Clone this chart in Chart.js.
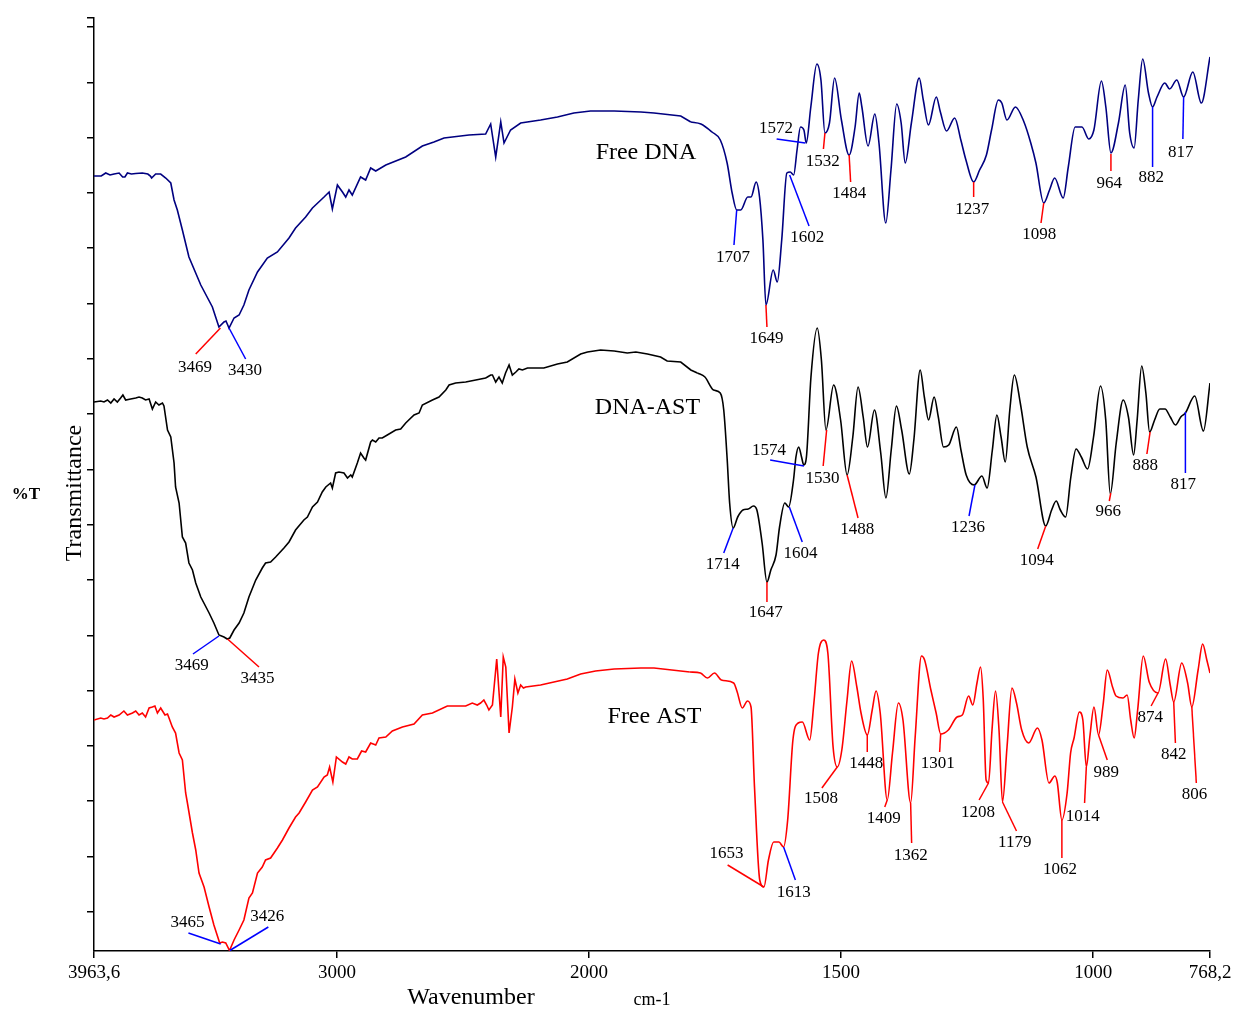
<!DOCTYPE html>
<html lang="en">
<head>
<meta charset="utf-8">
<title>FTIR spectra - Free DNA, DNA-AST, Free AST</title>
<script src="https://cdn.jsdelivr.net/npm/chart.js"></script>
<style>
  html, body { margin: 0; padding: 0; background: #fff; }
  #wrap { width: 1237px; height: 1010px; }
</style>
</head>
<body>
<div id="wrap"><canvas id="c"></canvas></div>

<script>
  // Free DNA spectrum (wavenumber cm-1, transmittance, offset)
  const dnaWn = [3963.6,3935,3917,3900,3884,3864,3850,3841,3831,3815,3798,3772,3750,3740,3735,3719,3699,3679,3659,3646,3633,3613,3587,3540,3494,3468,3448,3440,3428,3408,3388,3369,3349,3315,3276,3236,3190,3164,3124,3097,3051,3031,3018,2998,2978,2965,2952,2939,2906,2886,2866,2846,2806,2727,2661,2615,2575,2476,2410,2390,2370,2350,2337,2311,2271,2192,2125,2060,1997,1950,1897,1871,1818,1798,1778,1756,1739.5,1726,1716,1707,1699,1685,1678.6,1668.4,1661.7,1655,1649,1634.6,1626.5,1617.7,1607.5,1600.8,1594,1587.3,1580.5,1573.7,1569,1560,1548,1539.9,1532,1523,1512.8,1499.3,1484,1472.2,1464,1458.7,1446.5,1433,1424.8,1411.3,1401,1389.6,1380.8,1372.7,1360.5,1345,1336.9,1326.7,1311.1,1303,1290.8,1274.6,1262.4,1252.3,1237,1225.2,1211.7,1201.5,1188,1181.2,1171,1154.2,1137.2,1123.7,1113.5,1098,1086.5,1076.3,1059.4,1049.3,1035.7,1022.2,1008.7,998.5,983.6,974.8,964.7,949.8,936.3,927.5,918.7,910.5,901.7,890.2,882.1,873.3,857.8,848.3,834.1,820.5,802.3,785.4,768.2];
  const dnaT = [77.5,77.5,77.8,77.6,77.7,77.8,77.4,77.4,77.8,77.7,77.75,77.8,77.7,77.5,77.3,77.7,77.7,77.3,76.8,75.1,74.1,72.1,69.4,66.6,64.4,62.4,62.9,63.0,62.3,63.3,63.6,64.6,66.1,67.9,69.3,69.9,71.3,72.3,73.4,74.3,75.4,75.9,74.2,76.6,75.9,75.4,76.1,75.6,77.4,77.1,78.3,78.0,78.6,79.4,80.5,80.9,81.3,81.6,81.7,82.7,79.4,82.9,80.8,82.1,82.8,83.1,83.4,83.8,84.0,84.0,83.9,83.8,83.5,82.9,82.7,81.9,81.1,78.8,75.8,74.1,74.1,75.4,75.4,76.9,75.4,71.1,64.6,68.1,66.9,71.1,77.8,77.9,77.6,80.1,82.4,82.1,80.8,84.4,88.7,87.1,81.8,82.8,87.3,83.1,79.6,82.4,85.8,84.4,80.5,83.7,80.8,72.8,78.1,84.7,82.8,78.8,82.8,87.3,85.1,82.6,85.4,83.9,82.0,83.3,81.1,79.1,76.9,78.1,79.6,82.1,85.1,84.8,83.1,84.4,82.9,80.8,78.8,74.8,76.1,77.3,75.3,78.4,82.4,82.4,81.2,82.1,87.0,84.4,79.8,82.8,86.6,81.8,80.3,85.1,89.2,85.8,84.4,85.4,86.8,86.2,87.1,85.4,87.9,84.8,89.4];

  // DNA-AST complex spectrum
  const complexWn = [3963.6,3937,3924,3910,3897,3884,3871,3858,3849,3838,3818,3798,3785,3772,3759,3745,3732,3719,3706,3692,3686,3672,3659,3646,3640,3626,3613,3600,3587,3573,3560,3540,3507,3488,3468,3448,3435,3425,3408,3388,3369,3349,3322,3296,3283,3263,3243,3210,3190,3164,3131,3117,3097,3077,3058,3044,3025,3018,3005,2992,2972,2958,2945,2939,2919,2906,2893,2886,2866,2859,2846,2833,2820,2800,2767,2747,2727,2694,2674,2661,2621,2595,2568,2555,2529,2489,2449,2410,2403,2390,2383,2370,2357,2344,2331,2317,2304,2290,2278,2264,2244,2179,2125,2086,2033,2006,1977,1950,1924,1907,1884,1858,1845,1818,1798,1785,1770,1753,1739.6,1732.7,1725.8,1721,1714,1705,1694.6,1684.2,1673.9,1667,1656.6,1647,1639.3,1629,1622,1611.6,1604,1594.3,1589.5,1584,1578.4,1574,1568.7,1559.7,1547.2,1539,1530,1514.7,1500.9,1488,1476.7,1466.3,1456.1,1447.6,1433.8,1421.3,1411,1400.5,1390.2,1379.8,1364.6,1355.6,1343.1,1334.8,1326.5,1315.4,1307.1,1296.8,1286.4,1271.2,1262.2,1251.8,1236,1220.6,1210.3,1199.9,1190.9,1182.6,1174.3,1165.3,1156.3,1144.5,1130.7,1113.4,1094,1082.3,1073.3,1065,1054.6,1044.2,1033.8,1023.4,1011,999.2,985.4,975,966,954.2,940.4,930,919.7,912.7,903.7,895.4,888,878.1,867.8,857.4,847,836.6,826.2,817,798.5,781.3,768.2];
  const complexT = [54.9,55.0,54.9,55.1,54.8,55.2,54.9,55.3,55.6,55.1,55.2,55.3,55.4,55.3,55.1,55.2,54.2,54.9,54.6,54.8,54.5,52.1,51.4,48.8,46.4,44.8,41.4,40.8,38.8,38.1,36.8,35.4,33.8,32.8,31.6,31.4,31.2,31.3,32.1,32.8,33.8,35.4,37.1,38.3,38.8,38.9,39.4,40.3,40.9,42.1,43.1,43.4,44.4,44.9,45.9,46.4,46.8,46.3,47.8,47.9,47.8,47.3,47.6,47.4,48.8,49.8,49.3,49.1,50.9,51.1,50.9,51.3,51.3,51.6,52.1,52.2,52.8,53.6,53.8,54.6,55.1,55.4,56.1,56.6,56.8,56.9,57.1,57.3,57.4,57.6,57.6,56.9,57.4,56.8,57.8,58.6,57.6,57.9,58.2,58.1,58.3,58.3,58.7,58.9,59.7,59.9,60.1,60.0,59.8,59.9,59.7,59.4,59.0,58.9,58.1,57.8,57.4,56.1,55.8,54.1,49.1,44.8,42.3,43.4,44.1,44.2,44.5,44.1,40.8,36.9,38.1,39.6,42.4,44.8,44.4,47.1,49.4,50.4,49.4,48.6,49.4,57.4,62.3,59.1,52.1,56.6,53.1,47.6,51.4,56.4,53.4,50.4,54.1,49.8,45.3,50.1,54.5,52.1,47.7,51.1,58.1,55.4,53.1,55.4,53.4,50.4,50.6,52.4,50.1,47.6,46.6,47.5,46.3,50.1,53.6,51.4,48.9,54.1,57.6,54.8,50.4,47.4,42.5,44.1,45.0,44.1,43.4,47.4,50.2,49.4,48.2,51.4,56.5,53.1,45.7,50.8,55.1,53.4,49.6,53.1,58.5,55.8,51.9,53.1,54.2,54.2,53.4,52.6,53.4,53.8,55.5,52.0,56.8];

  // Free AST spectrum
  const astWn = [3963.6,3937,3924,3910,3897,3884,3864,3845,3831,3811,3798,3785,3772,3759,3745,3732,3722,3712,3699,3682,3672,3666,3653,3640,3626,3613,3600,3593,3573,3560,3547,3527,3507,3488,3465,3454,3441,3426,3408,3388,3369,3349,3335,3315,3296,3283,3263,3236,3216,3190,3164,3150,3124,3097,3077,3051,3038,3029,3016,3002,2978,2965,2952,2939,2919,2902,2886,2866,2846,2833,2806,2780,2740,2694,2661,2621,2562,2489,2463,2443,2430,2417,2406,2397,2383,2366,2350,2340,2330,2317,2304,2294,2282,2271,2260,2251,2192,2139,2086,2033,1987,1950,1897,1871,1818,1800,1779,1765,1751,1737.5,1713,1706,1696,1685.6,1678.6,1671.7,1661.3,1653,1644,1633.6,1623.2,1614.2,1605.9,1595.5,1585.1,1576.8,1562.2,1553.9,1544.9,1534.5,1526.2,1515.8,1507.5,1498.5,1488.1,1479.1,1468.7,1460.4,1447.9,1438.2,1430.6,1422.3,1408.4,1398,1386.3,1377.2,1362,1353,1340.5,1334.3,1321.8,1311.4,1302.4,1287.2,1269.9,1259.5,1247,1238.7,1230.4,1223.4,1217.9,1212.3,1207.5,1200.6,1193.6,1186.7,1179.8,1170.8,1161,1152,1141.7,1127.8,1110.5,1101.5,1087.6,1075.9,1071,1062,1051.6,1044.7,1037.8,1027.4,1020.4,1013.5,1006.6,998.3,989.3,980.3,972,961.5,954.6,940.8,932.5,925.5,918.6,911.7,900.6,888.8,871.3,856.2,847.1,840.2,824.3,812.6,804.3,791.8,782.8,774.5,768.2];
  const astT = [23.1,23.3,23.2,23.3,23.6,23.4,23.6,24.0,23.6,23.8,24.0,23.6,23.8,23.4,24.3,24.4,24.5,23.8,24.3,23.6,23.7,23.3,22.4,21.8,19.8,19.1,15.8,14.8,11.8,10.1,7.8,6.4,4.4,2.6,0.8,0.9,0.8,0.05,1.1,2.1,3.1,5.3,5.8,7.8,8.4,9.1,9.3,10.3,11.1,12.3,13.4,13.8,14.9,16.1,16.4,17.4,17.6,18.4,16.9,19.4,18.9,18.7,19.4,19.2,19.2,20.0,19.9,20.8,20.6,21.3,21.4,22.0,22.4,22.7,23.6,23.8,24.5,24.5,24.8,24.6,24.8,25.1,24.6,24.1,24.6,29.2,23.4,29.4,28.4,21.8,24.4,27.2,25.8,26.6,26.3,26.4,26.6,26.9,27.2,27.7,28.0,28.2,28.3,28.3,28.0,27.9,27.8,27.3,27.8,27.1,26.8,25.9,24.3,25.0,24.4,16.4,7.1,6.4,9.1,10.9,10.9,10.4,13.1,21.1,22.8,22.9,21.1,24.8,29.8,31.1,29.8,20.4,18.4,20.1,25.1,29.0,26.4,23.8,21.6,24.1,26.0,23.8,15.1,19.8,24.8,23.1,14.8,21.4,29.5,29.1,26.1,23.8,21.7,22.1,23.4,23.6,25.5,24.6,26.8,28.4,25.1,17.1,16.8,22.1,26.0,22.1,14.9,20.4,26.3,24.8,22.1,20.8,22.3,21.1,16.8,17.5,16.8,13.1,15.8,19.8,21.3,23.9,23.1,18.4,21.4,24.4,21.6,24.6,28.1,26.4,25.5,25.3,25.6,23.1,21.3,24.1,29.5,26.9,25.8,29.2,26.6,24.9,28.8,26.8,24.4,28.1,30.7,29.1,27.8];

  // peak labels: [text, leader colour, wn at curve, T at curve, wn at end, T at end, text wn, text T]
  const dnaPeaks = [
    ['3469', 'red', 3462, 62.3, 3560, 59.7, 3563, 58.3],
    ['3430', 'blue', 3428, 62.3, 3362, 59.2, 3365, 58.0],
    ['1707', 'blue', 1707, 74.1, 1712.4, 70.6, 1714.4, 69.3],
    ['1649', 'red', 1649, 64.6, 1647, 62.4, 1648, 61.2],
    ['1602', 'blue', 1602, 77.6, 1563.5, 72.5, 1567, 71.3],
    ['1572', 'blue', 1571, 80.8, 1627.8, 81.2, 1629.2, 82.2],
    ['1532', 'red', 1532, 81.8, 1535, 80.2, 1536.5, 78.9],
    ['1484', 'red', 1484, 79.6, 1481, 76.9, 1483.7, 75.7],
    ['1237', 'red', 1237, 76.9, 1237, 75.4, 1240, 74.1],
    ['1098', 'red', 1098, 74.8, 1103.4, 72.8, 1106.8, 71.6],
    ['964', 'red', 964.7, 79.7, 964.7, 78.0, 968, 76.7],
    ['882', 'blue', 882.1, 84.4, 882.1, 78.4, 884.8, 77.3],
    ['817', 'blue', 820.5, 85.4, 822, 81.2, 826, 79.8]
  ];
  const complexPeaks = [
    ['3469', 'blue', 3468, 31.5, 3571, 29.7, 3576, 28.5],
    ['3435', 'red', 3434, 31.2, 3309, 28.4, 3315, 27.2],
    ['1714', 'blue', 1714, 42.3, 1732.7, 39.8, 1734.8, 38.6],
    ['1647', 'red', 1647, 36.9, 1647, 34.9, 1649.6, 33.8],
    ['1604', 'blue', 1602.6, 44.4, 1577, 40.9, 1580.5, 39.7],
    ['1574', 'blue', 1573.5, 48.5, 1640.7, 49.1, 1642.7, 50.0],
    ['1530', 'red', 1528.6, 52.1, 1535.5, 48.5, 1536.9, 47.2],
    ['1488', 'red', 1488, 47.6, 1466.3, 43.3, 1467.7, 42.1],
    ['1236', 'blue', 1234.5, 46.6, 1246.2, 43.5, 1248.3, 42.3],
    ['1094', 'red', 1094, 42.5, 1110, 40.2, 1112, 39.0],
    ['966', 'red', 965, 45.8, 968, 45.0, 970, 43.9],
    ['888', 'red', 887, 51.9, 893.4, 49.7, 896.8, 48.5],
    ['817', 'blue', 817, 53.9, 817, 47.8, 821.4, 46.6]
  ];
  const astPeaks = [
    ['3465', 'blue', 3461, 0.7, 3589, 1.8, 3593, 2.8],
    ['3426', 'blue', 3425, 0.05, 3272, 2.4, 3276, 3.4],
    ['1653', 'red', 1653, 6.4, 1725, 8.6, 1727, 9.7],
    ['1613', 'blue', 1614, 10.4, 1590.6, 7.1, 1594, 5.8],
    ['1508', 'red', 1507.5, 18.4, 1538, 16.3, 1540, 15.2],
    ['1448', 'red', 1448, 21.6, 1448, 19.9, 1450, 18.7],
    ['1409', 'red', 1408.4, 15.1, 1413.3, 14.4, 1415.4, 13.2],
    ['1362', 'red', 1362, 14.8, 1360, 10.8, 1362, 9.5],
    ['1301', 'red', 1302.4, 21.7, 1304.5, 19.9, 1308, 18.7],
    ['1208', 'red', 1207.5, 16.8, 1226.2, 15.1, 1228.3, 13.8],
    ['1179', 'red', 1179.8, 14.9, 1152, 12.0, 1155.5, 10.8],
    ['1062', 'red', 1062, 13.1, 1062, 9.3, 1065.5, 8.1],
    ['1014', 'red', 1013.5, 18.4, 1017, 14.8, 1020.4, 13.4],
    ['989', 'red', 989.3, 21.6, 972, 19.1, 974, 17.8],
    ['874', 'red', 871.3, 25.8, 885, 24.5, 886.7, 23.3],
    ['842', 'red', 840.2, 24.9, 836.8, 20.8, 840.3, 19.6],
    ['806', 'red', 804.3, 24.4, 795.3, 16.8, 798.7, 15.6]
  ];

  // series names and where they sit (wn, T)
  const seriesNames = ['Free DNA', 'DNA-AST', 'Free AST'];
  const seriesColors = ['#000080', '#000000', '#ff0000'];
  const nameWn = [1887, 1884, 1870];
  const nameT = [79.8, 54.3, 23.4];

  const xTicks = [3963.6, 3000, 2000, 1500, 1000, 768.2];
  const xTickLabels = ['3963,6', '3000', '2000', '1500', '1000', '768,2'];
  // y axis carries tick marks only
  const yTicks = [93.3, 92.4, 86.87, 81.34, 75.81, 70.28, 64.75, 59.22, 53.69, 48.16, 42.63, 37.1, 31.57, 26.04, 20.51, 14.98, 9.45, 3.92];

  // the spectrometer plot squeezes everything above 2000 cm-1 to half spacing
  function toU(wn) {
    return wn > 2000 ? 2000 + (wn - 2000) / 2 : wn;
  }

  const leaderColor = { red: '#ff0000', blue: '#0000ff' };
  const SERIF = '"Liberation Serif", "Times New Roman", serif';
  const SPLIT = 1780; // noisy part drawn with straight segments, fingerprint part smoothed

  // two datasets per spectrum: jagged high-wavenumber part and smooth fingerprint part
  function makeSets(name, color, wn, t) {
    const pts = wn.map((w, i) => ({ w: w, x: toU(w), y: t[i] }));
    const hi = pts.filter(p => p.w >= SPLIT);
    const lo = pts.filter(p => p.w <= hi[hi.length - 1].w);
    const base = {
      borderColor: color,
      borderWidth: 1.6,
      pointRadius: 0,
      fill: false
    };
    return [
      Object.assign({ label: name, data: hi, tension: 0 }, base),
      Object.assign({ label: name + ' fp', data: lo, cubicInterpolationMode: 'monotone' }, base)
    ];
  }

  const peakLabels = {
    id: 'peakLabels',
    afterDatasetsDraw(chart) {
      const ctx = chart.ctx;
      const xs = chart.scales.x, ys = chart.scales.y;
      const px = w => xs.getPixelForValue(toU(w));
      const py = t => ys.getPixelForValue(t);
      ctx.save();
      [dnaPeaks, complexPeaks, astPeaks].forEach(list => {
        list.forEach(p => {
          ctx.strokeStyle = leaderColor[p[1]];
          ctx.lineWidth = 1.5;
          ctx.beginPath();
          ctx.moveTo(px(p[2]), py(p[3]));
          ctx.lineTo(px(p[4]), py(p[5]));
          ctx.stroke();
          ctx.fillStyle = '#000';
          ctx.font = '17px ' + SERIF;
          ctx.textAlign = 'center';
          ctx.textBaseline = 'middle';
          ctx.fillText(p[0], px(p[6]), py(p[7]));
        });
      });
      // series names
      ctx.font = '24px ' + SERIF;
      ctx.fillStyle = '#000';
      seriesNames.forEach((n, i) => {
        ctx.fillText(n, px(nameWn[i]), py(nameT[i]));
      });
      // axis titles
      ctx.font = '24px ' + SERIF;
      ctx.fillText('Wavenumber', 471, 998);
      ctx.font = '18px ' + SERIF;
      ctx.fillText('cm-1', 652, 1000);
      ctx.font = 'bold 17px ' + SERIF;
      ctx.fillText('%T', 26, 495);
      ctx.translate(75, 493);
      ctx.rotate(-Math.PI / 2);
      ctx.font = '24px ' + SERIF;
      ctx.fillText('Transmittance', 0, 0);
      ctx.restore();
    }
  };

  new Chart(document.getElementById('c'), {
    type: 'line',
    data: {
      datasets: [].concat(
        makeSets(seriesNames[0], seriesColors[0], dnaWn, dnaT),
        makeSets(seriesNames[1], seriesColors[1], complexWn, complexT),
        makeSets(seriesNames[2], seriesColors[2], astWn, astT)
      )
    },
    options: {
      responsive: true,
      maintainAspectRatio: false,
      animation: false,
      devicePixelRatio: 1,
      layout: { padding: { top: 18, right: 27, left: 0, bottom: 0 } },
      plugins: { legend: { display: false }, tooltip: { enabled: false } },
      scales: {
        x: {
          type: 'linear',
          reverse: true,
          min: toU(768.2),
          max: toU(3963.6),
          afterBuildTicks: s => { s.ticks = xTicks.map(w => ({ value: toU(w) })); },
          afterFit: s => { s.height = 59; },
          ticks: {
            autoSkip: false,
            maxRotation: 0,
            padding: 4,
            color: '#000',
            font: { family: SERIF, size: 19 },
            callback: (v, i) => xTickLabels[i]
          },
          grid: { drawOnChartArea: false, tickLength: 7, color: '#000', lineWidth: 1.5 },
          border: { color: '#000', width: 1.5 }
        },
        y: {
          min: 0,
          max: 93.3,
          afterBuildTicks: s => { s.ticks = yTicks.map(v => ({ value: v })); },
          afterFit: s => { s.width = 94; },
          ticks: { display: false },
          grid: { drawOnChartArea: false, tickLength: 7, color: '#000', lineWidth: 1.5 },
          border: { color: '#000', width: 1.5 }
        }
      }
    },
    plugins: [peakLabels]
  });
</script>

</body>
</html>
